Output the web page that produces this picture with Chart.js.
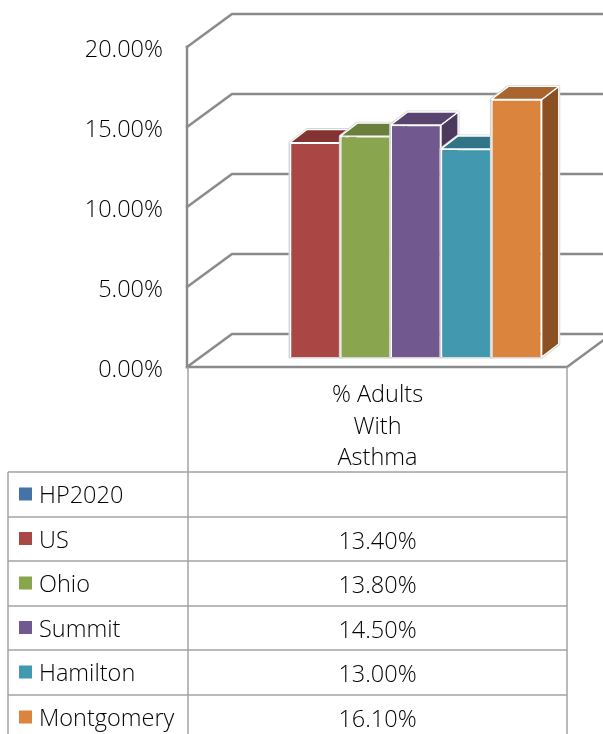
<!DOCTYPE html>
<html><head><meta charset="utf-8">
<style>html,body{margin:0;padding:0;background:#fff;overflow:hidden}canvas{display:block}</style>
<script src="https://cdn.jsdelivr.net/npm/chart.js@4"></script>
</head><body><canvas id="c" width="603" height="734"></canvas>
<script>
const categories = [["% Adults","With","Asthma"]];
const seriesNames = ["HP2020","US","Ohio","Summit","Hamilton","Montgomery"];
const seriesValues = [null,13.4,13.8,14.5,13.0,16.1];
const frontColors = ["#4572A7","#AA4643","#89A54E","#71588F","#4198AF","#DB843D"];
const topColors = ["#355780","#833432","#6B7F3C","#59436F","#317387","#A86530"];
const sideColors = ["#2C476A","#6E2D2B","#586832","#4B3A5E","#2A6070","#8B5023"];
const yTicks = [0,5,10,15,20];
const FONT = '"Open Sans", sans-serif';
const TEXT = '#000';
const FONT_SIZE = 23.5;
const GRID = '#8a8a8a', TABLE = '#a3a3a3';
const depth = {x:45,y:33}, barShift = {x:13.2,y:10}, barDepth = {x:17,y:13};
const rowEdges = [472,517,561,606,650,695];

const threeD = {
  id:'threeD',
  afterLayout(chart){
    const y = chart.scales.y, orig = y.drawLabels;
    y.drawLabels = function(area){
      const c = this.ctx; c.save(); c.translate(0,3); orig.call(this,area); c.restore();
    };
  },
  beforeDraw(chart){
    const {ctx,chartArea:a,scales:{y}} = chart;
    ctx.save();
    ctx.strokeStyle = GRID; ctx.lineWidth = 2.4; ctx.lineCap='square';
    yTicks.forEach(v=>{
      const py = y.getPixelForValue(v);
      ctx.beginPath();
      ctx.moveTo(a.left-1,py); ctx.lineTo(a.left-1+depth.x,py-depth.y); ctx.lineTo(a.right+depth.x,py-depth.y);
      ctx.stroke();
    });
    const y0 = y.getPixelForValue(0), yTop = y.getPixelForValue(20);
    ctx.beginPath(); ctx.moveTo(a.left-1,yTop); ctx.lineTo(a.left-1,y0); ctx.lineTo(a.right,y0); ctx.lineTo(a.right+depth.x,y0-depth.y); ctx.stroke();
    ctx.restore();
  },
  beforeDatasetsDraw(chart){
    const {ctx} = chart;
    ctx.save();
    ctx.translate(barShift.x,-barShift.y);
    chart.data.datasets.forEach((ds,i)=>{
      const meta = chart.getDatasetMeta(i), el = meta.data[0];
      if(!el || ds.data[0]==null) return;
      const {x,y,base,width} = el.getProps(['x','y','base','width']);
      const l=x-width/2, r=x+width/2, dx=barDepth.x, dy=barDepth.y;
      ctx.beginPath();
      ctx.moveTo(l,base);ctx.lineTo(l,y);ctx.lineTo(l+dx,y-dy);ctx.lineTo(r+dx,y-dy);ctx.lineTo(r+dx,base-dy);ctx.lineTo(r,base);ctx.closePath();
      ctx.strokeStyle='#d6d6d6';ctx.lineWidth=3;ctx.lineJoin='round';ctx.stroke();
      ctx.strokeStyle='#fff';ctx.lineWidth=1.3;
      ctx.fillStyle=sideColors[i];
      ctx.beginPath();ctx.moveTo(r,y);ctx.lineTo(r+dx,y-dy);ctx.lineTo(r+dx,base-dy);ctx.lineTo(r,base);ctx.closePath();ctx.fill();ctx.stroke();
      ctx.fillStyle=topColors[i];
      ctx.beginPath();ctx.moveTo(l,y);ctx.lineTo(l+dx,y-dy);ctx.lineTo(r+dx,y-dy);ctx.lineTo(r,y);ctx.closePath();ctx.fill();ctx.stroke();
      meta.controller.draw();
    });
    ctx.restore();
    return false;
  },
  afterDraw(chart){
    const {ctx,chartArea:a,scales:{x}} = chart;
    const left=8, H=chart.height;
    ctx.save();
    ctx.strokeStyle=TABLE;ctx.lineWidth=1.5;
    rowEdges.forEach(py=>{ctx.beginPath();ctx.moveTo(left,py);ctx.lineTo(a.right,py);ctx.stroke();});
    [[left,rowEdges[0]],[a.left,a.bottom],[a.right,a.bottom]].forEach(([px,py])=>{ctx.beginPath();ctx.moveTo(px,py);ctx.lineTo(px,H);ctx.stroke();});
    ctx.font='300 '+FONT_SIZE+'px '+FONT;ctx.textBaseline='middle';
    seriesNames.forEach((name,i)=>{
      const top=rowEdges[i], nxt=rowEdges[i+1]||top+45, cy=(top+nxt)/2;
      ctx.fillStyle=frontColors[i];ctx.fillRect(19,cy-7,13,13);
      ctx.fillStyle=TEXT;ctx.textAlign='left';ctx.fillText(name,39,cy+2);
      const v=seriesValues[i];
      if(v!=null){ctx.textAlign='center';ctx.fillText(v.toFixed(2)+'%',x.getPixelForTick(0),cy+3);}
    });
    ctx.restore();
  }
};

new Chart(document.getElementById('c'),{
  type:'bar',
  data:{labels:categories,datasets:seriesNames.map((n,i)=>({
    label:n,data:[seriesValues[i]],backgroundColor:frontColors[i],borderColor:'#fff',borderWidth:1.3
  }))},
  options:{
    responsive:false,animation:false,
    layout:{padding:{top:47,left:0,right:36,bottom:0}},
    categoryPercentage:0.797,barPercentage:1,
    plugins:{legend:{display:false},title:{display:false},tooltip:{enabled:false}},
    scales:{
      x:{
        grid:{display:false},border:{display:false},
        afterFit(s){s.height=367;},
        ticks:{maxRotation:0,autoSkip:false,padding:5,color:TEXT,font:{family:FONT,size:FONT_SIZE,weight:'300',lineHeight:1.34}}
      },
      y:{
        min:0,max:20,
        afterBuildTicks(s){s.ticks=yTicks.map(v=>({value:v}));},
        grid:{display:false,drawTicks:false},border:{display:false},
        afterFit(s){s.width=188;},
        ticks:{padding:25,color:TEXT,font:{family:FONT,size:FONT_SIZE,weight:'300'},callback:v=>v.toFixed(2)+'%'}
      }
    }
  },
  plugins:[threeD]
});
</script></body></html>
